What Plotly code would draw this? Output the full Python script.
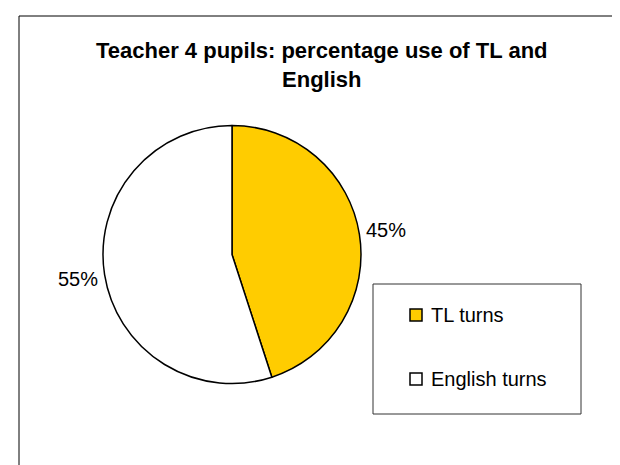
import math
import plotly.graph_objects as go

categories = ["TL turns", "English turns"]
values = [45, 55]
colors = ["#FFCC00", "#FFFFFF"]
title_lines = ["Teacher 4 pupils: percentage use of TL and", "English"]

W, H = 620, 465

def px(x):
    return x / W

def py(y):
    return 1 - y / H

cx, cy, r = 224, 246.5, 129
label_r = 156

fig = go.Figure()
fig.add_trace(go.Pie(
    labels=categories,
    values=values,
    sort=False,
    direction="clockwise",
    rotation=0,
    marker=dict(colors=colors, line=dict(color="#000000", width=1.5)),
    textinfo="none",
    domain=dict(x=[px(cx - r), px(cx + r)], y=[py(cy + r), py(cy - r)]),
    showlegend=False,
    hoverinfo="label+percent",
))

shapes = [
    # chart area border
    dict(type="rect", xref="paper", yref="paper", x0=px(11), x1=px(611), y0=-0.05, y1=py(8),
         line=dict(color="#000000", width=1), fillcolor="rgba(0,0,0,0)"),
    # legend box
    dict(type="rect", xref="paper", yref="paper", x0=px(365), x1=px(573), y0=py(406), y1=py(276),
         line=dict(color="#333333", width=1), fillcolor="rgba(0,0,0,0)"),
]

annotations = [
    dict(text="<b>" + title_lines[0] + "<br>" + title_lines[1] + "</b>", x=px(314), y=py(57),
         xref="paper", yref="paper", xanchor="center", yanchor="middle", showarrow=False,
         font=dict(family="Liberation Sans", size=22, color="#000000")),
]

# percentage labels outside the slices, placed at each slice's mid-angle
total = sum(values)
cum = 0
for v in values:
    mid = (cum + v / 2) / total * 2 * math.pi  # clockwise from 12 o'clock
    cum += v
    lx = cx + label_r * math.sin(mid)
    ly = cy - label_r * math.cos(mid)
    annotations.append(dict(text=f"{round(100 * v / total)}%", x=px(lx), y=py(ly),
                            xref="paper", yref="paper", xanchor="center", yanchor="middle",
                            showarrow=False,
                            font=dict(family="Liberation Sans", size=20, color="#000000")))

legend_rows = [307, 371]
for cat, col, yc in zip(categories, colors, legend_rows):
    shapes.append(dict(type="rect", xref="paper", yref="paper", x0=px(402), x1=px(414),
                       y0=py(yc + 6), y1=py(yc - 6), line=dict(color="#000000", width=1.5),
                       fillcolor=col))
    annotations.append(dict(text=cat, x=px(421), y=py(yc), xref="paper", yref="paper",
                            xanchor="left", yanchor="middle", showarrow=False,
                            font=dict(family="Liberation Sans", size=20, color="#000000")))

fig.update_layout(
    width=W, height=H,
    margin=dict(l=0, r=0, t=0, b=0),
    paper_bgcolor="#FFFFFF",
    plot_bgcolor="#FFFFFF",
    shapes=shapes,
    annotations=annotations,
)

fig.write_html("out.html")
